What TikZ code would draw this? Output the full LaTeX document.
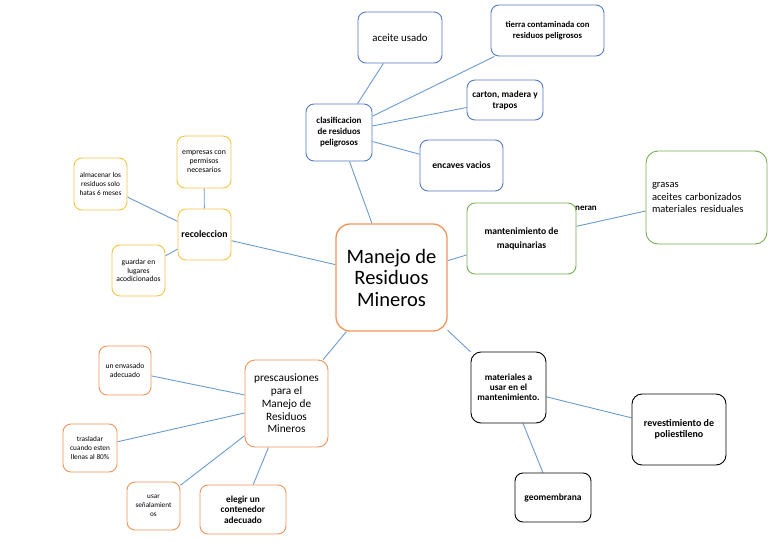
\documentclass[tikz,border=0pt]{standalone}
\usepackage{fontspec}
\setmainfont{Carlito}
\usetikzlibrary{backgrounds}
\definecolor{bl}{HTML}{5479C2}
\definecolor{yl}{HTML}{F5C445}
\definecolor{gr}{HTML}{76AF50}
\definecolor{orn}{HTML}{F0955A}
\definecolor{ln}{HTML}{6A9BCF}
\newcommand{\fs}[2]{\fontsize{#1}{#2}\selectfont}
\begin{document}
\begin{tikzpicture}[x=1pt,y=-1pt,
  box/.style={draw, rounded corners=8pt, fill=white, align=center, inner sep=2pt, line width=0.9pt},
  sz/.style 2 args={minimum width=#1, minimum height=#2},
  conn/.style={draw=ln, line width=0.9pt}]
\useasboundingbox (0,0) rectangle (768,543);

% partly hidden label
\node[font=\fs{9}{10}\bfseries, inner sep=0, anchor=east] (gen) at (597,209) {generan};

% blue group
\node[box,draw=bl,sz={84pt}{51pt},font=\fs{10.8}{12}] (aceite) at (400,37.5) {aceite usado};
\node[box,draw=bl,sz={113pt}{51pt},font=\fs{8.7}{11.5}\bfseries] (tierra) at (547.5,30.5) {tierra contaminada con\\residuos peligrosos};
\node[box,draw=bl,sz={66pt}{57pt},font=\fs{9}{11}\bfseries] (clas) at (339,132.5) {clasificacion\\de residuos\\peligrosos};
\node[box,draw=bl,sz={76pt}{40pt},font=\fs{9.3}{11}\bfseries] (carton) at (505,100) {carton, madera y\\trapos};
\node[box,draw=bl,sz={83pt}{51pt},font=\fs{9.6}{11}\bfseries] (encaves) at (461.5,165.5) {encaves vacios};

% green group
\node[box,draw=gr,sz={121pt}{93pt},rounded corners=12pt,align=left,text width=109pt,font=\fs{10.5}{12.8}] (grasas) at (706.5,197.5) {grasas\\aceites carbonizados\\materiales residuales};
\node[box,draw=gr,sz={109pt}{71pt},font=\fs{9.6}{14}\bfseries] (mant) at (521.5,238.5) {mantenimiento de\\maquinarias};

% yellow group
\node[box,draw=yl,sz={53pt}{51pt},font=\fs{9.8}{11}\bfseries] (reco) at (204.5,234.5) {recoleccion};
\node[box,draw=yl,sz={54pt}{52pt},font=\fs{7.8}{9}] (empr) at (204,162) {empresas con\\permisos\\necesarios};
\node[box,draw=yl,sz={53pt}{52pt},font=\fs{7.3}{8.8}] (alm) at (100.5,184) {almacenar los\\residuos solo\\hatas 6 meses};
\node[box,draw=yl,sz={53pt}{51pt},font=\fs{7.6}{8.8}] (guard) at (138.5,270.5) {guardar en\\lugares\\acodicionados};

% central
\node[box,draw=orn,sz={111pt}{107pt},rounded corners=14pt,line width=1.3pt,font=\fs{20.5}{21.5}] (manejo) at (391.5,277.5) {Manejo de\\Residuos\\Mineros};

% orange group
\node[box,draw=orn,sz={83pt}{87pt},rounded corners=10pt,font=\fs{11.3}{12.7}] (pres) at (286.5,403.5) {prescausiones\\para el\\Manejo de\\Residuos\\Mineros};
\node[box,draw=orn,sz={52pt}{49pt},font=\fs{7.6}{9}] (env) at (125,370.5) {un envasado\\adecuado};
\node[box,draw=orn,sz={54pt}{48pt},font=\fs{7.3}{9}] (tras) at (90,448) {trasladar\\cuando esten\\llenas al 80\%};
\node[box,draw=orn,sz={53pt}{48pt},font=\fs{7.2}{8.8}] (usar) at (153.5,506) {usar\\señalamient\\os};
\node[box,draw=orn,sz={86pt}{49pt},font=\fs{9.3}{10.3}\bfseries] (eleg) at (243,509.5) {elegir un\\contenedor\\adecuado};

% black group
\node[box,draw=black,sz={75pt}{71pt},rounded corners=10pt,font=\fs{9.3}{10}\bfseries] (mat) at (508.5,387.5) {materiales a\\usar en el\\mantenimiento.};
\node[box,draw=black,sz={94pt}{71pt},rounded corners=10pt,font=\fs{10}{11.5}\bfseries] (rev) at (679,429.5) {revestimiento de\\poliestileno};
\node[box,draw=black,sz={76pt}{49pt},font=\fs{9.5}{10}\bfseries] (geo) at (553,497.5) {geomembrana};

\begin{scope}[on background layer]
\path[conn] (clas) -- (aceite);
\path[conn] (clas) -- (tierra);
\path[conn] (clas) -- (carton);
\path[conn] (clas) -- (encaves);
\path[conn] (clas) -- (manejo);
\path[conn] (reco) -- (manejo);
\path[conn] (reco) -- (empr);
\path[conn] (reco) -- (alm);
\path[conn] (reco) -- (guard);
\path[conn] (manejo) -- (mant);
\path[conn] (mant) -- (grasas);
\path[conn] (manejo) -- (pres);
\path[conn] (pres) -- (env);
\path[conn] (pres) -- (tras);
\path[conn] (pres) -- (usar);
\path[conn] (pres) -- (eleg);
\path[conn] (manejo) -- (mat);
\path[conn] (mat) -- (rev);
\path[conn] (mat) -- (geo);
\end{scope}
\end{tikzpicture}
\end{document}
